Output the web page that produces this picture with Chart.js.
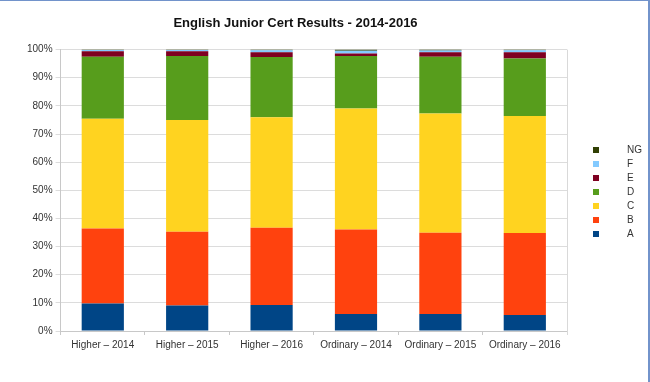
<!DOCTYPE html>
<html>
<head>
<meta charset="utf-8">
<script src="https://cdn.jsdelivr.net/npm/chart.js@4/dist/chart.umd.min.js"></script>
<style>
  html, body { margin: 0; padding: 0; background: #fff; }
  #wrap {
    position: relative;
    width: 650px;
    height: 382px;
    box-sizing: border-box;
    border-top: 1px solid #7293cb;
    border-right: 2px solid #7293cb;
    overflow: hidden;
  }
  #chart { position: absolute; left: 0; top: 0; }
  #legend {
    position: absolute;
    left: 593px;
    top: 142px;
    font: 10px "Liberation Sans", Arial, sans-serif;
    color: #333;
  }
  #legend .item { height: 14px; line-height: 14px; position: relative; }
  #legend .box { position: absolute; left: 0; top: 4px; width: 6px; height: 6px; }
  #legend .lbl { position: absolute; left: 34px; top: 0; white-space: nowrap; }
</style>
</head>
<body>
<div id="wrap">
  <canvas id="chart" width="648" height="381"></canvas>
  <div id="legend"></div>
</div>
<script>
// Categories and grade shares (% of candidates)
const categories = ['Higher \u2013 2014', 'Higher \u2013 2015', 'Higher \u2013 2016',
                    'Ordinary \u2013 2014', 'Ordinary \u2013 2015', 'Ordinary \u2013 2016'];

const gradeA  = [9.8, 9.1, 9.2, 6.0, 6.0, 5.7];
const gradeB  = [26.6, 26.2, 27.5, 30.1, 28.9, 29.1];
const gradeC  = [39.0, 39.7, 39.3, 43.0, 42.4, 41.6];
const gradeD  = [22.1, 22.75, 21.4, 18.65, 20.2, 20.4];
const gradeE  = [1.9, 1.65, 1.7, 0.85, 1.6, 2.3];
const gradeF  = [0.5, 0.5, 0.7, 1.0, 0.6, 0.7];
const gradeNG = [0.1, 0.1, 0.2, 0.4, 0.3, 0.2];

const yTicks = [0, 10, 20, 30, 40, 50, 60, 70, 80, 90, 100];

const series = [
    { label: 'A',  data: gradeA,  color: '#004586' },
    { label: 'B',  data: gradeB,  color: '#ff420e' },
    { label: 'C',  data: gradeC,  color: '#ffd320' },
    { label: 'D',  data: gradeD,  color: '#579d1c' },
    { label: 'E',  data: gradeE,  color: '#7e0021' },
    { label: 'F',  data: gradeF,  color: '#83caff' },
    { label: 'NG', data: gradeNG, color: '#314004' }
];

const FONT = '"Liberation Sans", Arial, sans-serif';

// draws the right-hand frame line of the plot area
const plotFrame = {
    id: 'plotFrame',
    afterDraw(chart) {
        const a = chart.chartArea;
        const ctx = chart.ctx;
        ctx.save();
        ctx.strokeStyle = '#d9d9d9';
        ctx.lineWidth = 1;
        ctx.beginPath();
        ctx.moveTo(Math.round(a.right) + 0.5, a.top);
        ctx.lineTo(Math.round(a.right) + 0.5, a.bottom + 4);
        ctx.stroke();
        ctx.restore();
    }
};

const chart = new Chart(document.getElementById('chart'), {
    type: 'bar',
    data: {
        labels: categories,
        datasets: series.map(s => ({
            label: s.label,
            data: s.data,
            backgroundColor: s.color,
            borderWidth: 0,
            barPercentage: 0.5,
            categoryPercentage: 1.0
        }))
    },
    options: {
        responsive: false,
        animation: false,
        layout: { padding: { left: 24, right: 81, top: 6, bottom: 27 } },
        plugins: {
            legend: { display: false },
            tooltip: { enabled: false },
            title: {
                display: true,
                text: 'English Junior Cert Results - 2014-2016',
                color: '#111',
                font: { family: FONT, size: 13, weight: 'bold' },
                padding: { top: 9, bottom: 18 }
            }
        },
        scales: {
            x: {
                stacked: true,
                grid: { drawOnChartArea: false, drawTicks: true, tickLength: 4, color: '#c8c8c8' },
                border: { color: '#c8c8c8' },
                ticks: { color: '#333', font: { family: FONT, size: 10 }, padding: 4, maxRotation: 0 }
            },
            y: {
                stacked: true,
                min: 0,
                max: 100,
                afterBuildTicks(axis) { axis.ticks = yTicks.map(v => ({ value: v })); },
                grid: { color: '#dcdcdc', tickLength: 5 },
                border: { color: '#c8c8c8' },
                ticks: {
                    color: '#333',
                    font: { family: FONT, size: 10 },
                    padding: 3,
                    callback: v => v + '%'
                }
            }
        }
    },
    plugins: [plotFrame]
});

// legend, listed top-down from NG to A as in the original
const legendEl = document.getElementById('legend');
chart.data.datasets.slice().reverse().forEach(ds => {
    const item = document.createElement('div');
    item.className = 'item';
    item.innerHTML = '<span class="box" style="background:' + ds.backgroundColor + '"></span>' +
                     '<span class="lbl">' + ds.label + '</span>';
    legendEl.appendChild(item);
});
</script>
</body>
</html>
